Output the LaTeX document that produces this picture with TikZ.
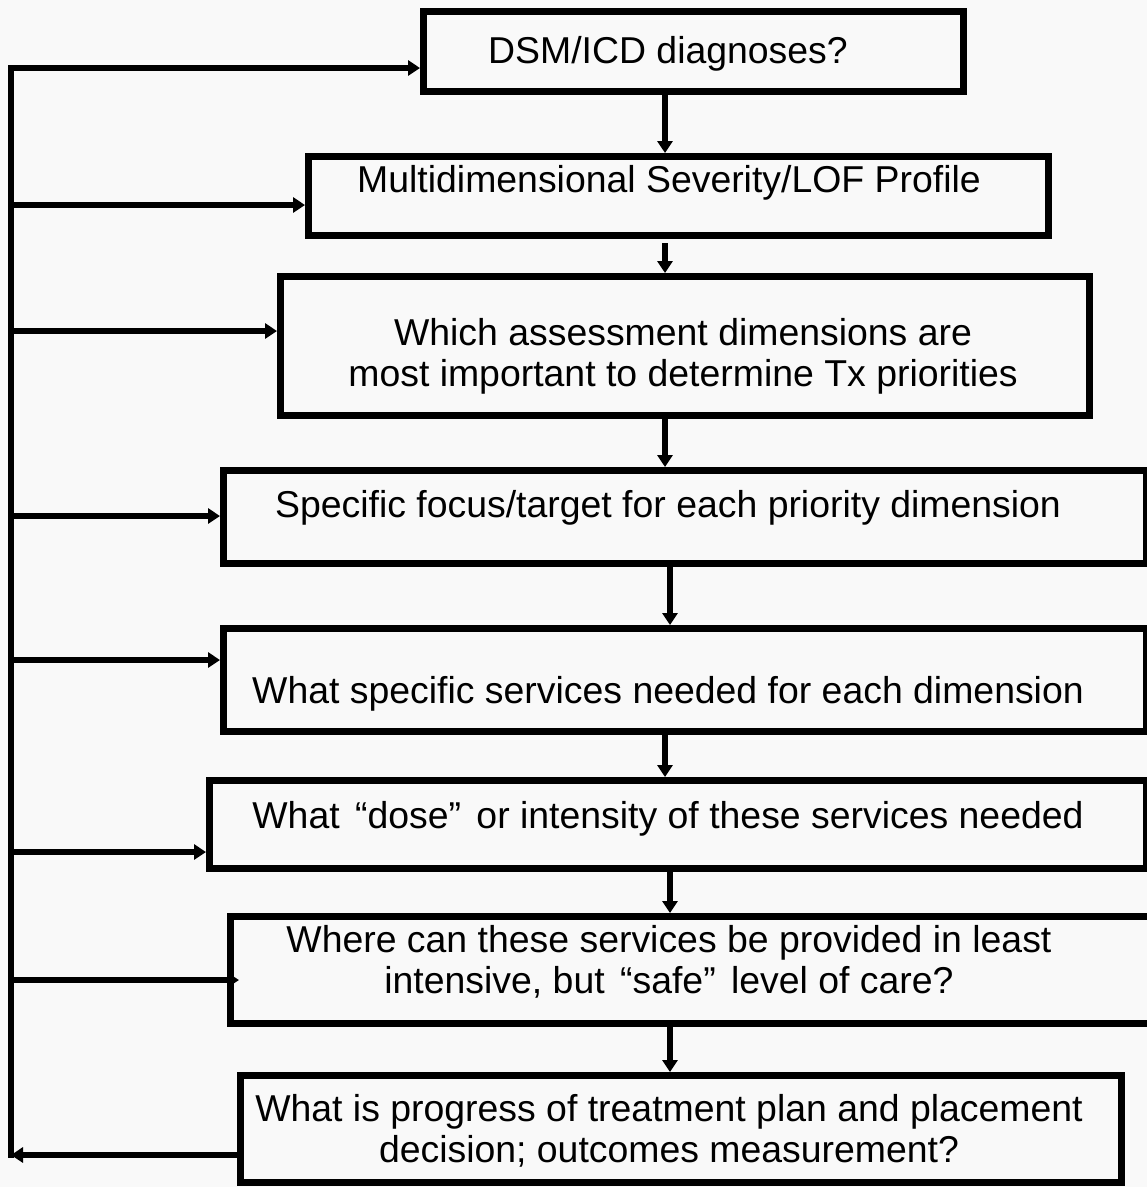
\documentclass[tikz,border=0pt]{standalone}
\usepackage{fontspec}
\setmainfont{Liberation Sans}
\usetikzlibrary{arrows.meta}
\definecolor{paper}{RGB}{249,249,249}
% curly quotes with a little extra room outside
\newcommand{\wideoq}{\kern5pt“}
\newcommand{\widecq}{”\kern5pt}
\begin{document}
\begin{tikzpicture}[x=1pt,y=-1pt,
  box/.style={draw=black, line width=7pt, inner sep=0pt},
  label/.style={font=\fontsize{37.4}{41}\selectfont, inner sep=0pt, anchor=base, align=center},
  wire/.style={line width=6pt},
  arr/.style={line width=6pt, -{Triangle[length=12pt,width=15pt]}},
]
\fill[paper] (0,0) rectangle (1147,1187);
\useasboundingbox (0,0) rectangle (1147,1187);

% process boxes
\node[box, minimum width=540pt, minimum height=80pt]  (b1) at (693.5,51.5) {};
\node[box, minimum width=740pt, minimum height=79pt]  (b2) at (678.5,196) {};
\node[box, minimum width=809pt, minimum height=139pt] (b3) at (685,346) {};
\node[box, minimum width=923pt, minimum height=93pt]  (b4) at (685,517) {};
\node[box, minimum width=923pt, minimum height=103pt] (b5) at (685,680) {};
\node[box, minimum width=937pt, minimum height=88pt]  (b6) at (678,824.5) {};
\node[box, minimum width=926pt, minimum height=107pt] (b7) at (693.5,970) {};
\node[box, minimum width=881pt, minimum height=107pt] (b8) at (681,1129) {};

% box texts (multi-line nodes sit on the baseline of their last line)
\node[label] (t1) at (668,63)   {DSM/ICD diagnoses?};
\node[label] (t2) at (669,192)  {Multidimensional Severity/LOF Profile};
\node[label] (t3) at (683,386)  {Which assessment dimensions are\\most important to determine Tx priorities};
\node[label] (t4) at (668,517)  {Specific focus/target for each priority dimension};
\node[label] (t5) at (668,703)  {What specific services needed for each dimension};
\node[label] (t6) at (668,828)  {What \wideoq dose\widecq{} or intensity of these services needed};
\node[label] (t7) at (669,993)  {Where can these services be provided in least\\intensive, but \wideoq safe\widecq{} level of care?};
\node[label] (t8) at (669,1162) {What is progress of treatment plan and placement\\decision; outcomes measurement?};

% feedback spine on the left
\coordinate (top) at (11,65);
\coordinate (bot) at (11,1158);
\coordinate (s1) at (11,68);
\coordinate (s2) at (11,205);
\coordinate (s3) at (11,331);
\coordinate (s4) at (11,516);
\coordinate (s5) at (11,660);
\coordinate (s6) at (11,852);
\coordinate (s7) at (11,980);
\coordinate (s8) at (11,1155);
\draw[wire] (top) -- (bot);
\draw[arr] (s1) -- (s1 -| b1.west);
\draw[arr] (s2) -- (s2 -| b2.west);
\draw[arr] (s3) -- (s3 -| b3.west);
\draw[arr] (s4) -- (s4 -| b4.west);
\draw[arr] (s5) -- (s5 -| b5.west);
\draw[arr] (s6) -- (s6 -| b6.west);
\draw[arr, shorten >=-12pt] (s7) -- (s7 -| b7.west);
\draw[arr] (s8 -| b8.west) -- (s8);

% main flow
\coordinate (ax) at (665,0);
\coordinate (bx) at (670,0);
\draw[arr] (b1.south -| ax) -- (b2.north -| ax);
\draw[arr, shorten <=4pt] (b2.south -| ax) -- (b3.north -| ax);
\draw[arr] (b3.south -| ax) -- (b4.north -| ax);
\draw[arr] (b4.south -| bx) -- (b5.north -| bx);
\draw[arr] (b5.south -| ax) -- (b6.north -| ax);
\draw[arr] (b6.south -| bx) -- (b7.north -| bx);
\draw[arr] (b7.south -| bx) -- (b8.north -| bx);
\end{tikzpicture}
\end{document}
